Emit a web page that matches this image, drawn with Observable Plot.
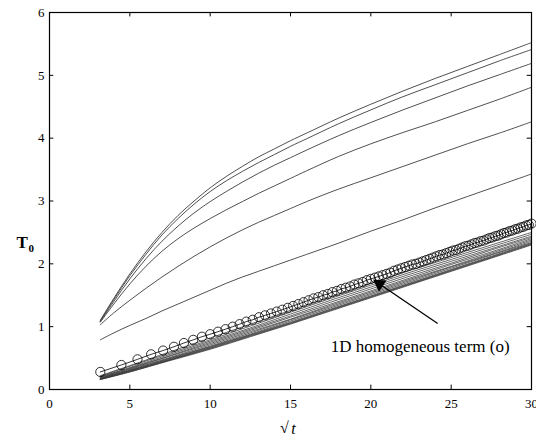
<!DOCTYPE html>
<html>
<head>
<meta charset="utf-8">
<script src="https://cdn.jsdelivr.net/npm/d3@7"></script>
<script src="https://cdn.jsdelivr.net/npm/@observablehq/plot@0.6"></script>
<style>
  html, body { margin: 0; padding: 0; background: white; }
  #chart svg { display: block; }
</style>
</head>
<body>
<div id="chart"></div>
<script>
// ---- data ----
const xTicks = [0, 5, 10, 15, 20, 25, 30];
const yTicks = [0, 1, 2, 3, 4, 5, 6];

// upper family of curves (sqrt(t) grid)
const xUpper = [3.16, 4, 5, 6, 7, 8, 9, 10, 11, 12, 13, 14, 15, 16, 18, 20, 22, 24, 26, 28, 30];
const curve1 = [1.10, 1.45, 1.84, 2.19, 2.50, 2.77, 3.00, 3.21, 3.39, 3.55, 3.70, 3.83, 3.96, 4.08, 4.32, 4.54, 4.75, 4.95, 5.14, 5.33, 5.52];
const curve2 = [1.09, 1.43, 1.81, 2.15, 2.46, 2.72, 2.95, 3.15, 3.32, 3.47, 3.61, 3.74, 3.87, 3.99, 4.23, 4.45, 4.66, 4.85, 5.04, 5.23, 5.41];
const curve3 = [1.08, 1.40, 1.76, 2.08, 2.36, 2.60, 2.81, 2.99, 3.15, 3.30, 3.44, 3.57, 3.69, 3.81, 4.04, 4.25, 4.45, 4.64, 4.83, 5.01, 5.19];
const curve4 = [1.07, 1.36, 1.68, 1.96, 2.20, 2.40, 2.57, 2.72, 2.86, 2.99, 3.12, 3.24, 3.36, 3.48, 3.71, 3.91, 4.09, 4.26, 4.44, 4.62, 4.81];
const curve5 = [1.03, 1.22, 1.42, 1.61, 1.79, 1.96, 2.12, 2.27, 2.41, 2.54, 2.66, 2.77, 2.88, 2.99, 3.19, 3.37, 3.55, 3.73, 3.91, 4.08, 4.26];
const curve6 = [0.79, 0.90, 1.02, 1.13, 1.25, 1.36, 1.47, 1.58, 1.69, 1.79, 1.88, 1.97, 2.06, 2.15, 2.33, 2.52, 2.70, 2.89, 3.07, 3.25, 3.43];

// lower bundle of curves
const xLower = [3.16, 5, 7.5, 10, 12.5, 15, 17.5, 20, 22.5, 25, 27.5, 30];
const low1  = [0.22, 0.38, 0.60, 0.82, 1.04, 1.26, 1.48, 1.69, 1.90, 2.10, 2.30, 2.50];
const low2  = [0.21, 0.37, 0.58, 0.79, 1.01, 1.23, 1.45, 1.66, 1.87, 2.07, 2.27, 2.47];
const low3  = [0.20, 0.35, 0.56, 0.77, 0.98, 1.20, 1.42, 1.63, 1.84, 2.04, 2.24, 2.44];
const low4  = [0.20, 0.34, 0.54, 0.75, 0.96, 1.17, 1.39, 1.60, 1.81, 2.01, 2.22, 2.42];
const low5  = [0.19, 0.33, 0.53, 0.73, 0.94, 1.15, 1.36, 1.57, 1.78, 1.99, 2.19, 2.40];
const low6  = [0.18, 0.32, 0.51, 0.71, 0.92, 1.12, 1.34, 1.55, 1.76, 1.96, 2.17, 2.38];
const low7  = [0.18, 0.31, 0.50, 0.69, 0.90, 1.11, 1.32, 1.53, 1.74, 1.95, 2.15, 2.36];
const low8  = [0.17, 0.30, 0.49, 0.68, 0.88, 1.09, 1.30, 1.51, 1.72, 1.93, 2.14, 2.34];
const low9  = [0.17, 0.30, 0.48, 0.67, 0.87, 1.07, 1.28, 1.49, 1.70, 1.91, 2.12, 2.33];
const low10 = [0.16, 0.29, 0.47, 0.66, 0.86, 1.06, 1.27, 1.48, 1.69, 1.90, 2.11, 2.32];
const low11 = [0.16, 0.28, 0.47, 0.65, 0.85, 1.05, 1.26, 1.47, 1.68, 1.89, 2.10, 2.31];
const low12 = [0.16, 0.28, 0.46, 0.64, 0.84, 1.04, 1.25, 1.46, 1.67, 1.88, 2.09, 2.30];

// 1D homogeneous term (circles), sampled at t = 10, 20, ..., 900
const tCircles = [10,20,30,40,50,60,70,80,90,100,110,120,130,140,150,160,170,180,190,200,
  210,220,230,240,250,260,270,280,290,300,310,320,330,340,350,360,370,380,390,400,
  410,420,430,440,450,460,470,480,490,500,510,520,530,540,550,560,570,580,590,600,
  610,620,630,640,650,660,670,680,690,700,710,720,730,740,750,760,770,780,790,800,
  810,820,830,840,850,860,870,880,890,900];
const yCircles = [0.28,0.39,0.48,0.56,0.62,0.68,0.74,0.79,0.84,0.88,
  0.92,0.96,1.00,1.04,1.08,1.11,1.15,1.18,1.21,1.24,
  1.27,1.30,1.33,1.36,1.39,1.42,1.45,1.47,1.50,1.52,
  1.55,1.57,1.60,1.62,1.64,1.67,1.69,1.71,1.74,1.76,
  1.78,1.80,1.82,1.84,1.86,1.89,1.91,1.93,1.95,1.97,
  1.99,2.00,2.02,2.04,2.06,2.08,2.10,2.12,2.14,2.15,
  2.17,2.19,2.21,2.22,2.24,2.26,2.28,2.29,2.31,2.33,
  2.34,2.36,2.37,2.39,2.41,2.42,2.44,2.45,2.47,2.49,
  2.50,2.52,2.53,2.55,2.56,2.58,2.59,2.61,2.62,2.64];

// annotation
const annText = ["1D homogeneous term (o)"];
const annTextPos = [17.5, 0.68];
const arrowTail = [24.16, 1.05];
const arrowHead = [20.54, 1.68];

// ---- build tables ----
const upperSeries = [curve1, curve2, curve3, curve4, curve5, curve6];
const lowerSeries = [low1, low2, low3, low4, low5, low6, low7, low8, low9, low10, low11, low12];
const upperRows = upperSeries.flatMap((ys, i) => ys.map((y, j) => ({x: xUpper[j], y, s: "u" + i})));
const lowerRows = lowerSeries.flatMap((ys, i) => ys.map((y, j) => ({x: xLower[j], y, s: "l" + i})));
const circleRows = tCircles.map((t, i) => ({x: Math.sqrt(t), y: yCircles[i]}));

const serif = "'Liberation Serif', 'Times New Roman', serif";

const chart = Plot.plot({
  width: 536,
  height: 444,
  marginLeft: 49,
  marginRight: 5,
  marginTop: 12,
  marginBottom: 55,
  style: {fontFamily: serif, fontSize: "13px", background: "white", color: "black", overflow: "visible"},
  x: {domain: [0, 30], ticks: xTicks, tickSize: 0, tickPadding: 9, tickFormat: "d", label: null},
  y: {domain: [0, 6], ticks: yTicks, tickSize: 0, tickPadding: 5, tickFormat: "d", label: null},
  marks: [
    Plot.line(upperRows, {x: "x", y: "y", z: "s", stroke: "#3c3c3c", strokeWidth: 0.9, curve: "catmull-rom"}),
    Plot.line(lowerRows, {x: "x", y: "y", z: "s", stroke: "#333", strokeWidth: 0.75, curve: "catmull-rom"}),
    Plot.line(circleRows, {x: "x", y: "y", stroke: "black", strokeWidth: 0.8}),
    Plot.dot(circleRows, {x: "x", y: "y", r: 4.6, stroke: "black", strokeWidth: 0.8, fill: "none"}),
    // inward ticks
    Plot.ruleX(xTicks, {x: d => d, y1: 0, y2: 0.07, stroke: "black", strokeWidth: 1}),
    Plot.ruleX(xTicks, {x: d => d, y1: 6, y2: 5.93, stroke: "black", strokeWidth: 1}),
    Plot.ruleY(yTicks, {y: d => d, x1: 0, x2: 0.27, stroke: "black", strokeWidth: 1}),
    Plot.ruleY(yTicks, {y: d => d, x1: 30, x2: 29.73, stroke: "black", strokeWidth: 1}),
    Plot.frame({stroke: "black", strokeWidth: 1.2}),
    // annotation arrow and text
    Plot.link([0], {x1: () => arrowTail[0], y1: () => arrowTail[1], x2: () => arrowHead[0], y2: () => arrowHead[1], stroke: "black", strokeWidth: 1.3}),
    Plot.dot([0], {x: () => arrowHead[0], y: () => arrowHead[1], symbol: "triangle", r: 5, fill: "black", stroke: "none", rotate: -56}),
    Plot.text(annText, {x: () => annTextPos[0], y: () => annTextPos[1], text: d => d, textAnchor: "start", fontSize: 17, fontFamily: serif, fill: "black"}),
    // axis titles
    Plot.text(["T"], {frameAnchor: "left", dx: -33, dy: 42, text: d => d, fontSize: 17, fontWeight: "bold", fontFamily: serif, fill: "black"}),
    Plot.text(["0"], {frameAnchor: "left", dx: -21, dy: 47, text: d => d, fontSize: 11, fontWeight: "bold", fontFamily: serif, fill: "black"}),
    Plot.text(["√"], {frameAnchor: "bottom", dx: -6, dy: 43, text: d => d, fontSize: 16, fontFamily: serif, fill: "black"}),
    Plot.text(["t"], {frameAnchor: "bottom", dx: 3, dy: 44, text: d => d, fontSize: 16, fontStyle: "italic", fontFamily: serif, fill: "black"})
  ]
});
document.getElementById("chart").appendChild(chart);
</script>
</body>
</html>
